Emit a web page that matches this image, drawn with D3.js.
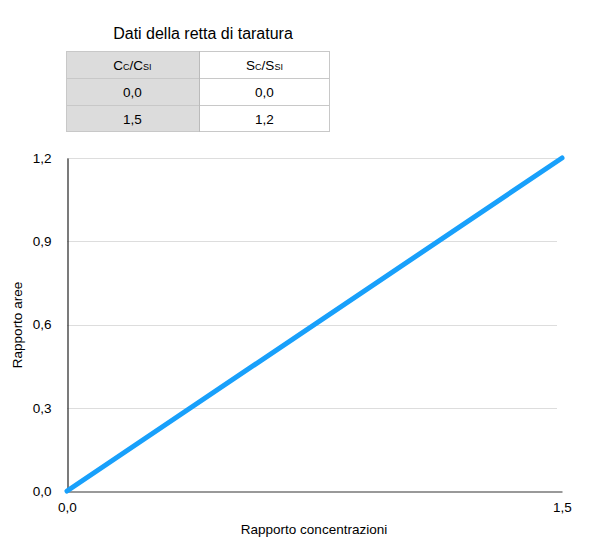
<!DOCTYPE html>
<html><head><meta charset="utf-8">
<script src="https://cdn.jsdelivr.net/npm/d3@7"></script>
<style>body{margin:0;background:#fff;font-family:"Liberation Sans",Arial,sans-serif;}</style>
</head><body>
<svg id="c" width="600" height="556"></svg>
<script>
const title = "Dati della retta di taratura";
const xValues = [0.0, 1.5];
const yValues = [0.0, 1.2];
const yTicks = [0.0, 0.3, 0.6, 0.9, 1.2];
const xTicks = [0.0, 1.5];
const xTitle = "Rapporto concentrazioni";
const yTitle = "Rapporto aree";
const fmt = v => d3.format(".1f")(v).replace(".", ",");

(function () {
const svg = d3.select("#c");
const font = "Liberation Sans, Arial, sans-serif";
const fs = 13.5;

svg.append("text").attr("x", 203).attr("y", 39).attr("text-anchor", "middle")
  .attr("font-size", 16).attr("font-family", font).attr("fill", "#000").text(title);

const tx0 = 66, tx1 = 199, tx2 = 330;
const rowsY = [51, 78, 105, 132];
const g = svg.append("g");
for (let r = 0; r < 3; r++) {
  g.append("rect").attr("x", tx0).attr("y", rowsY[r]).attr("width", tx1 - tx0).attr("height", rowsY[r+1]-rowsY[r])
    .attr("fill", "#dcdcdc");
}
g.append("rect").attr("x", tx0 + 0.5).attr("y", rowsY[0] + 0.5).attr("width", tx2 - tx0 - 1).attr("height", rowsY[3] - rowsY[0] - 1)
  .attr("fill", "none").attr("stroke", "#c8c8c8");
rowsY.slice(1, 3).forEach(yy => g.append("line").attr("x1", tx0).attr("x2", tx2).attr("y1", yy + 0.5).attr("y2", yy + 0.5).attr("stroke", "#c8c8c8"));
g.append("line").attr("x1", tx1 + 0.5).attr("x2", tx1 + 0.5).attr("y1", rowsY[0]).attr("y2", rowsY[3]).attr("stroke", "#bbbbbb");

function header(cx, cy, parts) {
  const t = g.append("text").attr("x", cx).attr("y", cy).attr("text-anchor", "middle")
    .attr("font-family", font).attr("fill", "#000");
  parts.forEach(p => t.append("tspan").attr("font-size", p[1]).text(p[0]));
}
const cx1 = (tx0 + tx1) / 2, cx2 = (tx1 + tx2) / 2;
header(cx1, 70, [["C", fs], ["C", 9], ["/C", fs], ["SI", 9]]);
header(cx2, 70, [["S", fs], ["C", 9], ["/S", fs], ["SI", 9]]);
for (let i = 0; i < xValues.length; i++) {
  const yy = (rowsY[i+1] + rowsY[i+2]) / 2 + 5;
  g.append("text").attr("x", cx1).attr("y", yy).attr("text-anchor", "middle").attr("font-size", fs).attr("font-family", font).text(fmt(xValues[i]));
  g.append("text").attr("x", cx2).attr("y", yy).attr("text-anchor", "middle").attr("font-size", fs).attr("font-family", font).text(fmt(yValues[i]));
}

const pl = 67, pr = 562, pt = 158, pb = 491;
const x = d3.scaleLinear().domain([0, 1.5]).range([pl, pr]);
const y = d3.scaleLinear().domain([0, 1.2]).range([pb, pt]);

svg.append("g").selectAll("line").data(yTicks.filter(d => d > 0)).join("line")
  .attr("x1", pl).attr("x2", pr - 5).attr("y1", d => Math.round(y(d)) + 0.5).attr("y2", d => Math.round(y(d)) + 0.5)
  .attr("stroke", "#dddddd").attr("stroke-width", 1);

const yAxis = svg.append("g").attr("transform", `translate(${pl + 0.5},0)`)
  .call(d3.axisLeft(y).tickValues(yTicks).tickFormat(fmt).tickSize(0).tickPadding(16));
yAxis.select(".domain").attr("stroke", "#222").attr("stroke-width", 1.2);
yAxis.selectAll("text").attr("font-size", fs).attr("font-family", font).attr("fill", "#000");

const xAxis = svg.append("g").attr("transform", `translate(0,${pb + 0.5})`)
  .call(d3.axisBottom(x).tickValues(xTicks).tickFormat(fmt).tickSize(0).tickPadding(11));
xAxis.select(".domain").attr("stroke", "#777").attr("stroke-width", 1.5);
xAxis.selectAll("text").attr("font-size", fs).attr("font-family", font).attr("fill", "#000");

const pts = xValues.map((v, i) => [v, yValues[i]]);
svg.append("path").datum(pts)
  .attr("d", d3.line().x(d => x(d[0])).y(d => y(d[1])))
  .attr("fill", "none").attr("stroke", "#18a0fb").attr("stroke-width", 5).attr("stroke-linecap", "round");

svg.append("text").attr("x", 314).attr("y", 534).attr("text-anchor", "middle")
  .attr("font-size", fs).attr("font-family", font).text(xTitle);
svg.append("text").attr("transform", "translate(22,325) rotate(-90)").attr("text-anchor", "middle")
  .attr("font-size", fs).attr("font-family", font).text(yTitle);
})();
</script>
</body></html>
